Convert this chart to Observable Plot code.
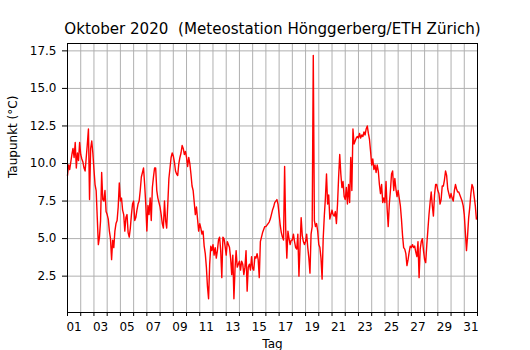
<!DOCTYPE html>
<html>
<head>
<meta charset="utf-8">
<script src="https://cdn.jsdelivr.net/npm/d3@7"></script>
<script src="https://cdn.jsdelivr.net/npm/@observablehq/plot@0.6"></script>
<style>
  html, body { margin: 0; padding: 0; background: #fff; }
  #chart svg { display: block; }
</style>
</head>
<body>
<div id="chart"></div>
<script>
// ---- Daten: Taupunkt (°C), alle 2 Stunden ab 1. Oktober 2020 00:00 ----
const titel = "Oktober 2020\u00a0 (Meteostation Hönggerberg/ETH Zürich)";
const yTitel = "Taupunkt (°C)";
const xTitel = "Tag";
const startDatum = "2020-10-01T00:00:00Z";
const endDatum = "2020-11-01T00:00:00Z";
const schrittStunden = 2;

const tage01_07 = [
  9.2, 9.9, 9.6, 10.1, 10.6, 11.0, 10.4, 11.4, 9.7, 10.7, 10.2, 11.4,
  10.6, 10.3, 10.1, 9.7, 9.5, 10.4, 11.3, 12.3, 7.6, 11.0, 11.5, 10.7,
  9.6, 8.6, 8.2, 6.4, 4.6, 5.1, 6.2, 9.4, 7.6, 7.5, 8.2, 6.8,
  6.6, 6.3, 5.5, 5.0, 3.6, 4.9, 4.4, 5.5, 6.0, 6.2, 7.1, 8.7,
  7.5, 7.7, 6.9, 6.6, 5.5, 6.4, 6.6, 5.4, 5.1, 5.7, 6.6, 7.3,
  7.5, 6.2, 6.4, 6.9, 7.3, 7.5, 8.2, 9.1, 9.4, 9.7, 8.6, 7.3,
  5.5, 7.2, 6.6, 7.7, 6.2, 8.4, 9.1, 9.7, 9.7, 8.2, 7.7, 7.4
];
const tage08_14 = [
  7.1, 6.6, 6.0, 5.7, 7.5, 6.2, 5.7, 7.3, 9.0, 9.7, 10.4, 10.7,
  10.5, 10.1, 9.5, 9.3, 9.2, 10.0, 10.4, 10.7, 11.2, 11.0, 10.6, 10.8,
  10.4, 9.8, 10.4, 10.0, 9.3, 8.5, 8.2, 7.4, 6.6, 7.1, 6.3, 5.5,
  6.0, 5.7, 5.3, 5.5, 4.5, 4.0, 3.1, 1.8, 1.0, 3.3, 4.5, 4.2,
  4.6, 3.9, 4.4, 3.7, 4.2, 4.9, 5.1, 4.2, 2.4, 5.1, 5.0, 4.5,
  3.9, 4.8, 4.6, 4.4, 3.7, 2.6, 3.9, 1.0, 3.0, 4.2, 3.1, 3.3,
  3.5, 2.9, 3.5, 3.3, 2.6, 3.1, 4.2, 1.5, 3.1, 3.3, 2.9, 3.8
];
const tage15_21 = [
  3.0, 2.9, 3.8, 3.7, 4.0, 3.6, 2.4, 4.8, 5.1, 5.4, 5.6, 5.8,
  5.8, 5.9, 6.0, 6.1, 6.3, 6.6, 6.9, 7.1, 7.4, 7.5, 7.6, 7.3,
  6.6, 5.9, 5.4, 5.1, 4.9, 9.8, 5.6, 3.7, 5.5, 5.0, 4.6, 4.9,
  4.9, 5.3, 4.8, 4.4, 4.3, 5.3, 2.5, 4.5, 6.4, 5.2, 4.8, 4.6,
  4.8, 5.3, 4.4, 3.7, 2.7, 5.3, 5.8, 17.2, 6.2, 5.8, 6.0, 5.5,
  4.6, 4.4, 3.7, 2.3, 5.0, 6.5, 7.7, 9.3, 7.3, 7.9, 6.3, 6.6,
  6.9, 6.6, 6.5, 6.8, 6.0, 7.3, 9.1, 10.6, 9.3, 8.4, 8.8, 7.8
];
const tage22_28 = [
  7.6, 8.4, 7.3, 8.6, 7.4, 10.4, 8.2, 12.3, 11.3, 11.5, 11.7, 11.8,
  11.7, 12.0, 11.7, 11.9, 11.8, 12.1, 11.9, 12.3, 12.5, 12.0, 11.6, 10.8,
  9.9, 10.3, 9.6, 9.9, 9.4, 9.9, 9.5, 8.6, 8.0, 8.6, 7.4, 7.7,
  7.4, 8.8, 7.0, 5.8, 7.3, 8.2, 9.3, 9.5, 8.2, 9.0, 8.3, 7.8,
  8.2, 7.7, 7.2, 6.3, 5.2, 4.4, 4.3, 4.0, 3.2, 3.6, 4.1, 4.5,
  4.4, 4.6, 4.4, 4.5, 4.1, 3.8, 4.8, 2.4, 4.3, 4.8, 5.0, 4.2,
  3.6, 3.4, 4.6, 5.6, 6.6, 7.4, 8.1, 7.2, 6.5, 7.9, 8.6, 8.6
];
const tage29_31 = [
  8.2, 8.0, 7.3, 7.6, 8.5, 8.5, 8.9, 9.5, 9.2, 8.3, 8.0, 7.7,
  8.0, 7.7, 7.5, 8.2, 8.6, 8.3, 8.1, 8.1, 7.9, 7.7, 7.5, 7.2,
  6.6, 5.4, 4.2, 5.2, 6.4, 7.1, 8.0, 8.6, 8.4, 7.8, 7.2, 6.3
];

const yTicks = [2.5, 5.0, 7.5, 10.0, 12.5, 15.0, 17.5];
const tagLabels = ["01","03","05","07","09","11","13","15","17","19","21","23","25","27","29","31"];

// ---- Aufbereitung ----
const start = new Date(startDatum);
const ende = new Date(endDatum);
const werte = [].concat(tage01_07, tage08_14, tage15_21, tage22_28, tage29_31);
const daten = werte.map((v, i) => ({
  t: new Date(start.getTime() + i * schrittStunden * 3600 * 1000),
  v
}));
const tagGrenzen = d3.utcDay.range(start, new Date(ende.getTime() + 1));   // Oct 1 .. Nov 1
const innereGrenzen = tagGrenzen.slice(1, -1);
const labelPos = tagLabels.map(s => new Date(`2020-10-${s}T12:00:00Z`));

const font = "DejaVu Sans";
const gridFarbe = "#b0b0b0";

const chart = Plot.plot({
  width: 530,
  height: 350,
  marginLeft: 67,
  marginRight: 53,
  marginTop: 43,
  marginBottom: 38,
  style: { fontFamily: font, fontSize: "12px", color: "black", background: "white" },
  x: { type: "utc", domain: [start, ende], label: null },
  y: { domain: [0.08, 17.99], label: null },
  marks: [
    Plot.gridX(innereGrenzen, { stroke: gridFarbe, strokeOpacity: 1, strokeWidth: 1 }),
    Plot.gridY(yTicks, { stroke: gridFarbe, strokeOpacity: 1, strokeWidth: 1 }),
    Plot.line(daten, { x: "t", y: "v", stroke: "#ff0000", strokeWidth: 1.4 }),
    Plot.frame({ stroke: "black", strokeWidth: 1 }),
    Plot.axisY(yTicks, {
      tickSize: 5, tickPadding: 6, tickFormat: d3.format(".1f"),
      fontSize: 12, stroke: "black", fill: "black", label: null
    }),
    Plot.axisX(tagGrenzen, {
      tickSize: 4, tickFormat: () => "", stroke: "black", label: null
    }),
    Plot.axisX(labelPos, {
      tickSize: 0, tickPadding: 10, tickFormat: d3.utcFormat("%d"),
      fontSize: 12, fill: "black", label: null
    }),
    Plot.text([titel], {
      text: d => d, frameAnchor: "top", dy: -14.3, lineAnchor: "middle",
      fontSize: 15.1, fill: "black"
    }),
    Plot.text([yTitel], {
      text: d => d, frameAnchor: "left", dx: -54.2, rotate: -90, lineAnchor: "middle",
      fontSize: 12, fill: "black"
    }),
    Plot.text([xTitel], {
      text: d => d, frameAnchor: "bottom", dy: 32, lineAnchor: "middle",
      fontSize: 12, fill: "black"
    })
  ]
});
document.getElementById("chart").appendChild(chart);
</script>
</body>
</html>
